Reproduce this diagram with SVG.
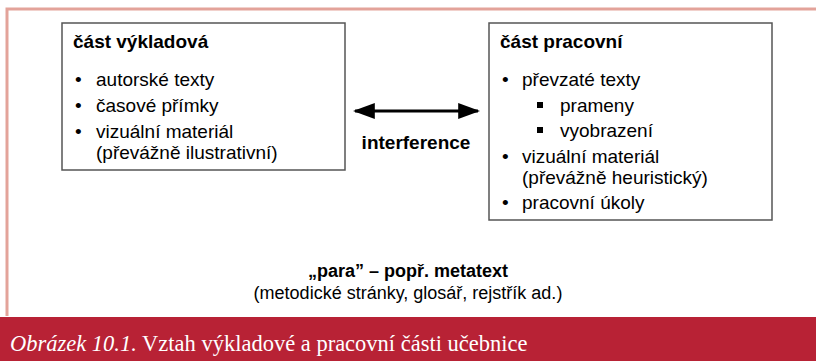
<svg xmlns="http://www.w3.org/2000/svg" width="816" height="361" viewBox="0 0 816 361">
<defs>
<style>
.frame{fill:none;stroke:#e3a39a;stroke-width:3}
.box{fill:#fff;stroke:#555;stroke-width:1.5}
.t{font-family:"Liberation Sans",Arial,sans-serif;font-size:19px;fill:#000}
.s{font-size:18px}
.b{font-weight:bold}
.cap{font-family:"Liberation Serif","DejaVu Serif",serif;font-size:22.5px;fill:#fff}
</style>
<marker id="ah" viewBox="0 0 10 10" refX="9" refY="5" markerWidth="22" markerHeight="16" markerUnits="userSpaceOnUse" orient="auto-start-reverse" preserveAspectRatio="none">
<path d="M0,0 L10,5 L0,10 Z" fill="#000"/>
</marker>
</defs>
<rect width="816" height="361" fill="#fff"/>
<path class="frame" d="M7,316 V9 H816"/>
<rect x="0" y="317" width="816" height="44" fill="#b82235"/>
<text class="cap" x="10" y="351"><tspan font-style="italic">Obrázek 10.1.</tspan> Vztah výkladové a pracovní části učebnice</text>

<g id="vykladova">
<rect class="box" x="62" y="23" width="283" height="147"/>
<text class="t b" x="73" y="48">část výkladová</text>
<text class="t" x="75" y="86">•</text><text class="t" x="96" y="86">autorské texty</text>
<text class="t" x="75" y="112">•</text><text class="t" x="96" y="112">časové přímky</text>
<text class="t" x="75" y="138">•</text><text class="t" x="96" y="138">vizuální materiál</text>
<text class="t" x="96" y="159">(převážně ilustrativní)</text>
</g>

<g id="pracovni">
<rect class="box" x="489" y="23" width="283" height="197"/>
<text class="t b" x="500" y="48">část pracovní</text>
<text class="t" x="502" y="86">•</text><text class="t" x="522" y="86">převzaté texty</text>
<rect x="537" y="102" width="6" height="6" fill="#000"/><text class="t" x="560" y="112">prameny</text>
<rect x="537" y="127" width="6" height="6" fill="#000"/><text class="t" x="560" y="137">vyobrazení</text>
<text class="t" x="502" y="163">•</text><text class="t" x="522" y="163">vizuální materiál</text>
<text class="t" x="522" y="184">(převážně heuristický)</text>
<text class="t" x="502" y="209">•</text><text class="t" x="522" y="209">pracovní úkoly</text>
</g>

<g id="connectors">
<line x1="355" y1="111" x2="478" y2="111" stroke="#000" stroke-width="3" marker-start="url(#ah)" marker-end="url(#ah)"/>
<text class="t b" x="416" y="149" text-anchor="middle">interference</text>
</g>

<g id="para">
<text class="t s b" x="408" y="277" text-anchor="middle">„para” – popř. metatext</text>
<text class="t s" x="408" y="299" text-anchor="middle">(metodické stránky, glosář, rejstřík ad.)</text>
</g>
</svg>
